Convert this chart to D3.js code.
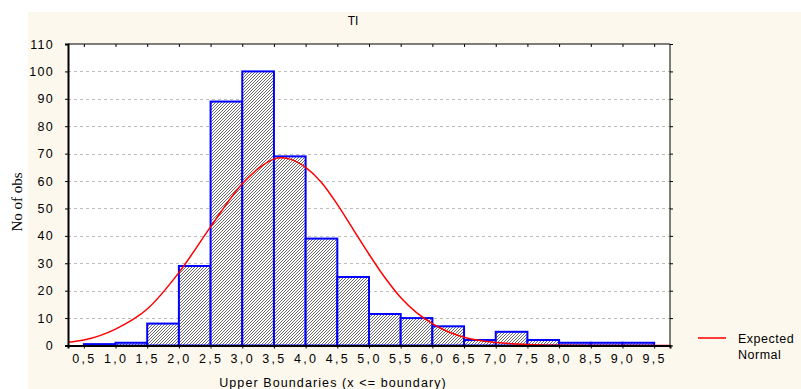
<!DOCTYPE html>
<html>
<head>
<meta charset="utf-8">
<script src="https://cdn.jsdelivr.net/npm/d3@7"></script>
<style>
  body { margin: 0; background: #ffffff; }
  svg { display: block; }
  text { font-family: "Liberation Sans", Arial, sans-serif; fill: #000; }
</style>
</head>
<body>
<div id="chart"></div>
<script>
// Bin upper boundaries and counts (bin = [upper - 0.5, upper])
const binUpper = [1.0, 1.5, 2.0, 2.5, 3.0, 3.5, 4.0, 4.5, 5.0, 5.5, 6.0, 6.5, 7.0, 7.5, 8.0, 8.5, 9.0, 9.5];
const counts   = [0.5, 1, 8, 29, 89, 100, 69, 39, 25, 11.5, 10, 7, 2, 5, 2, 1, 1, 1];

// Expected normal curve
const curveX = [0.25, 0.5, 1.0, 1.5, 2.0, 2.5, 3.0, 3.25, 3.5, 3.6, 3.75, 4.0, 4.25, 4.5, 4.75, 5.0, 5.25, 5.5, 5.75, 6.0, 6.25, 6.5, 6.75, 7.0, 7.5, 8.0, 8.5, 9.0, 9.75];
const curveY = [1.2, 2, 6, 13.3, 26.6, 43.3, 59, 64.5, 68, 68.5, 68, 65, 59.5, 51.5, 42.4, 33.3, 24.8, 17.5, 12, 8, 5, 3, 1.8, 1.1, 0.4, 0.1, 0, 0, 0];

const xTicks = [0.5, 1.0, 1.5, 2.0, 2.5, 3.0, 3.5, 4.0, 4.5, 5.0, 5.5, 6.0, 6.5, 7.0, 7.5, 8.0, 8.5, 9.0, 9.5];
const yTicks = [0, 10, 20, 30, 40, 50, 60, 70, 80, 90, 100, 110];

const W = 801, H = 389;
const margin = { left: 68, right: 131, top: 44, bottom: 43 };

const svg = d3.select('#chart').append('svg')
    .attr('width', W)
    .attr('height', H);

// cream panel
svg.append('rect')
    .attr('x', 28).attr('y', 12)
    .attr('width', W - 28).attr('height', H - 12)
    .attr('fill', '#fdf8ee');

const x = d3.scaleLinear().domain([0.25, 9.75]).range([margin.left, W - margin.right]);
const y = d3.scaleLinear().domain([0, 110]).range([H - margin.bottom - 0.5, margin.top]);

// hatch pattern
const defs = svg.append('defs');
const pat = defs.append('pattern')
    .attr('id', 'hatch')
    .attr('patternUnits', 'userSpaceOnUse')
    .attr('width', 3).attr('height', 3);
pat.append('rect').attr('width', 3).attr('height', 3).attr('fill', '#ffffff');
pat.append('path')
    .attr('d', 'M0,3 L3,0 M-1,1 L1,-1 M2,4 L4,2')
    .attr('stroke', '#3a3a3a')
    .attr('stroke-width', 0.75);

// plot background
svg.append('rect')
    .attr('x', x.range()[0]).attr('y', y(110))
    .attr('width', x.range()[1] - x.range()[0])
    .attr('height', y(0) - y(110))
    .attr('fill', '#ffffff');

// grid
svg.append('g')
    .selectAll('line')
    .data(yTicks.filter(d => d > 0 && d < 110))
    .join('line')
    .attr('x1', x.range()[0]).attr('x2', x.range()[1])
    .attr('y1', d => Math.round(y(d)) + 0.5)
    .attr('y2', d => Math.round(y(d)) + 0.5)
    .attr('stroke', '#bdbdbd')
    .attr('stroke-dasharray', '3,3');

// bars
svg.append('g')
    .selectAll('rect')
    .data(counts)
    .join('rect')
    .attr('x', (d, i) => x(binUpper[i] - 0.5))
    .attr('y', d => y(d))
    .attr('width', (d, i) => x(binUpper[i]) - x(binUpper[i] - 0.5))
    .attr('height', d => y(0) - y(d))
    .attr('fill', 'url(#hatch)')
    .attr('stroke', '#0000ff')
    .attr('stroke-width', 2);

// expected normal
const curveData = curveX.map((d, i) => [d, curveY[i]]);
svg.append('path')
    .datum(curveData)
    .attr('fill', 'none')
    .attr('stroke', '#ff0000')
    .attr('stroke-width', 1.5)
    .attr('d', d3.line()
        .x(d => x(d[0]))
        .y(d => y(d[1]))
        .curve(d3.curveMonotoneX));

// frame
const x0 = x.range()[0], x1 = x.range()[1], yb = y(0), yt = y(110);
svg.append('line').attr('x1', x0).attr('x2', x1).attr('y1', yt).attr('y2', yt)
    .attr('stroke', '#000').attr('stroke-width', 1);
svg.append('line').attr('x1', x1).attr('x2', x1).attr('y1', yt).attr('y2', yb)
    .attr('stroke', '#000').attr('stroke-width', 1);

// axes
const xAxis = d3.axisBottom(x)
    .tickValues(xTicks)
    .tickSize(3)
    .tickFormat(d => d3.format('.1f')(d).replace('.', ','));
const gx = svg.append('g')
    .attr('transform', `translate(0,${yb})`)
    .call(xAxis);
gx.select('.domain').attr('stroke-width', 2);
gx.selectAll('text')
    .attr('y', 9)
    .style('font-size', '12.5px')
    .style('letter-spacing', '2.3px');

const xTop = d3.axisTop(x).tickValues(xTicks).tickSize(-3).tickFormat('');
svg.append('g')
    .attr('transform', `translate(0,${yt})`)
    .call(xTop)
    .select('.domain').remove();

const yAxis = d3.axisLeft(y)
    .tickValues(yTicks)
    .tickSize(3);
const gy = svg.append('g')
    .attr('transform', `translate(${x0},0)`)
    .call(yAxis);
gy.select('.domain').attr('stroke-width', 2);
gy.selectAll('text')
    .attr('x', -14)
    .style('font-size', '12.5px')
    .style('letter-spacing', '1.3px');

const yRight = d3.axisRight(y).tickValues(yTicks).tickSize(3).tickFormat('');
svg.append('g')
    .attr('transform', `translate(${x1},0)`)
    .call(yRight)
    .select('.domain').remove();

// title and labels
svg.append('text')
    .attr('x', 353).attr('y', 25)
    .attr('text-anchor', 'middle')
    .style('font-size', '12px')
    .text('TI');

svg.append('text')
    .attr('x', 333).attr('y', 387)
    .attr('text-anchor', 'middle')
    .style('font-size', '12.5px')
    .style('letter-spacing', '1.1px')
    .text('Upper Boundaries (x <= boundary)');

svg.append('text')
    .attr('transform', 'translate(22,202) rotate(-90)')
    .attr('text-anchor', 'middle')
    .style('font-family', '"Liberation Serif", "Times New Roman", serif')
    .style('font-size', '15px')
    .text('No of obs');

// legend
svg.append('line')
    .attr('x1', 698).attr('x2', 726)
    .attr('y1', 338).attr('y2', 338)
    .attr('stroke', '#ff0000')
    .attr('stroke-width', 1.5);
svg.append('text')
    .attr('x', 738).attr('y', 342.5)
    .style('font-size', '12.5px')
    .style('letter-spacing', '0.5px')
    .text('Expected');
svg.append('text')
    .attr('x', 738).attr('y', 359)
    .style('font-size', '12.5px')
    .style('letter-spacing', '0.5px')
    .text('Normal');
</script>
</body>
</html>
